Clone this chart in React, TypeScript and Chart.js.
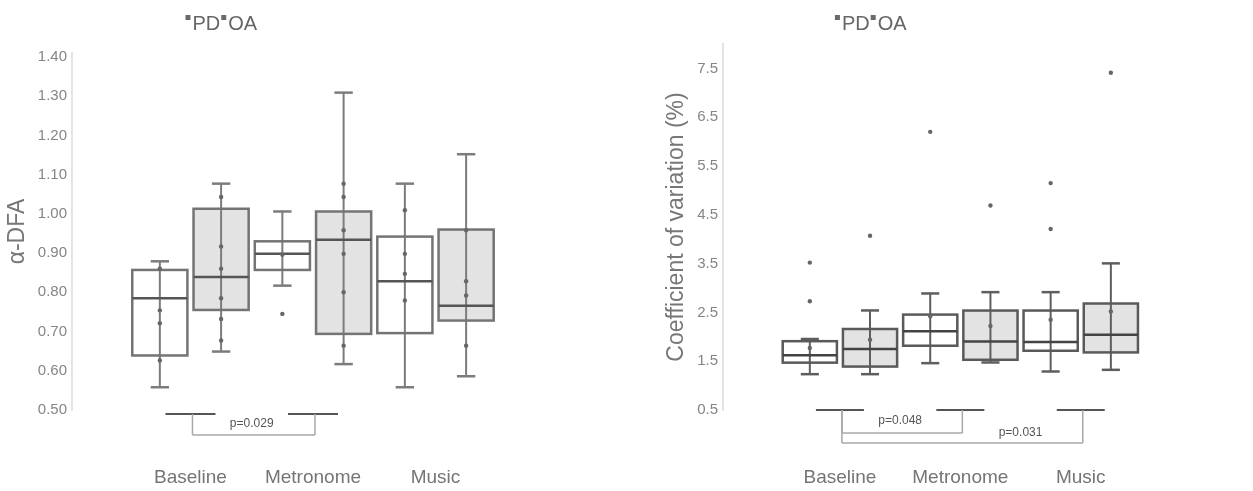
import React, { useEffect, useRef } from 'react';
import { Chart, registerables } from 'chart.js';

Chart.register(...registerables);
Chart.defaults.font.family = "'Liberation Sans', Arial, sans-serif";

// ---------- shared ----------
const categories = ['Baseline', 'Metronome', 'Music'];
const groupLabels = ['PD', 'OA'];

// ---------- α-DFA panel ----------
const dfaTicks = [0.5, 0.6, 0.7, 0.8, 0.9, 1.0, 1.1, 1.2, 1.3, 1.4];
const dfaPdMin = [0.558, 0.817, 0.558];
const dfaPdQ1 = [0.639, 0.857, 0.696];
const dfaPdMed = [0.785, 0.898, 0.828];
const dfaPdQ3 = [0.857, 0.93, 0.942];
const dfaPdMax = [0.879, 1.006, 1.077];
const dfaOaMin = [0.649, 0.617, 0.586];
const dfaOaQ1 = [0.755, 0.694, 0.728];
const dfaOaMed = [0.839, 0.934, 0.766];
const dfaOaQ3 = [1.013, 1.006, 0.96];
const dfaOaMax = [1.077, 1.309, 1.152];
const dfaPdPoints = [
  [0.754, 0.721, 0.86, 0.626],
  [0.896, 0.745],
  [0.898, 0.779, 0.847, 1.009],
];
const dfaOaPoints = [
  [0.917, 0.86, 0.785, 0.732, 0.677, 1.043],
  [0.898, 0.8, 1.077, 1.043, 0.958, 0.664],
  [0.828, 0.792, 0.664, 0.958],
];
const dfaSigFrom = [0];
const dfaSigTo = [1];
const dfaSigLabel = ['p=0.029'];

// ---------- CV panel ----------
const cvTicks = [0.5, 1.5, 2.5, 3.5, 4.5, 5.5, 6.5, 7.5];
const cvPdMin = [1.234, 1.46, 1.289];
const cvPdQ1 = [1.47, 1.817, 1.714];
const cvPdMed = [1.62, 2.112, 1.893];
const cvPdQ3 = [1.91, 2.455, 2.538];
const cvPdMax = [1.955, 2.888, 2.915];
const cvOaMin = [1.234, 1.474, 1.323];
const cvOaQ1 = [1.39, 1.529, 1.68];
const cvOaMed = [1.75, 1.906, 2.044];
const cvOaQ3 = [2.16, 2.538, 2.682];
const cvOaMax = [2.54, 2.915, 3.505];
const cvPdPoints = [
  [3.52, 2.73, 1.77],
  [6.2, 2.42],
  [5.15, 4.21, 2.35],
];
const cvOaPoints = [
  [4.07, 1.94],
  [4.69, 2.22],
  [7.41, 2.52],
];
const cvSigFrom = [0, 0];
const cvSigTo = [1, 2];
const cvSigLabel = ['p=0.048', 'p=0.031'];

// ---------- styling constants ----------
const OFFSETS = [-0.25, 0.25];
const BOX_HALF = 0.225;
const CAP_HALF = 0.075;
const FILLS = ['#ffffff', '#e3e3e3'];
const FONT = "'Liberation Sans', Arial, sans-serif";

type Stats = { min: number[]; q1: number[]; med: number[]; q3: number[]; max: number[] };

type PanelCfg = {
  width: number;
  yMin: number;
  yMax: number;
  yTicks: number[];
  decimals: number;
  yTitle: string;
  yTitleFont: number;
  yTitlePad: number;
  yWidth: number;
  tickFont: number;
  padTop: number;
  padRight: number;
  xMin: number;
  xMax: number;
  boxStroke: string;
  whisker: string;
  median: string;
  stats: Stats[];
  points: number[][][];
  sigFrom: number[];
  sigTo: number[];
  sigLabel: string[];
  sig: {
    segY: number;
    segHalf: number;
    levels: number[];
    labelAt: number[];
    labelY: number[];
  };
};

function line(ctx: CanvasRenderingContext2D, x1: number, y1: number, x2: number, y2: number) {
  ctx.beginPath();
  ctx.moveTo(x1, y1);
  ctx.lineTo(x2, y2);
  ctx.stroke();
}

function makeBoxPlugin(cfg: PanelCfg) {
  return {
    id: 'boxes',
    beforeDatasetsDraw(chart: any) {
      const { ctx } = chart;
      const x = chart.scales.x;
      const y = chart.scales.y;
      ctx.save();
      cfg.stats.forEach((g, gi) => {
        categories.forEach((_, i) => {
          const c = i + OFFSETS[gi];
          const cx = x.getPixelForValue(c);
          const l = x.getPixelForValue(c - BOX_HALF);
          const r = x.getPixelForValue(c + BOX_HALF);
          const cl = x.getPixelForValue(c - CAP_HALF);
          const cr = x.getPixelForValue(c + CAP_HALF);
          const yMin = y.getPixelForValue(g.min[i]);
          const yQ1 = y.getPixelForValue(g.q1[i]);
          const yMed = y.getPixelForValue(g.med[i]);
          const yQ3 = y.getPixelForValue(g.q3[i]);
          const yMax = y.getPixelForValue(g.max[i]);
          ctx.fillStyle = FILLS[gi];
          ctx.fillRect(l, yQ3, r - l, yQ1 - yQ3);
          ctx.strokeStyle = cfg.whisker;
          ctx.lineWidth = 2;
          line(ctx, cx, yMax, cx, yMin);
          ctx.lineWidth = 2.5;
          line(ctx, cl, yMax, cr, yMax);
          line(ctx, cl, yMin, cr, yMin);
          ctx.strokeStyle = cfg.boxStroke;
          ctx.lineWidth = 2.5;
          ctx.strokeRect(l, yQ3, r - l, yQ1 - yQ3);
          ctx.strokeStyle = cfg.median;
          ctx.lineWidth = 2.5;
          line(ctx, l, yMed, r, yMed);
        });
      });
      ctx.restore();
    },
    afterDraw(chart: any) {
      const { ctx, chartArea } = chart;
      const x = chart.scales.x;
      const b = chartArea.bottom;
      ctx.save();
      // legend
      const lx0 = x.getPixelForValue(0) - 5;
      ctx.font = `20px ${FONT}`;
      ctx.textBaseline = 'middle';
      ctx.textAlign = 'left';
      let lx = lx0;
      groupLabels.forEach((lab) => {
        ctx.fillStyle = '#6a6a6a';
        ctx.fillRect(lx, 15, 5, 5);
        lx += 7;
        ctx.fillStyle = '#666666';
        ctx.fillText(lab, lx, 24);
        lx += ctx.measureText(lab).width + 1;
      });
      // significance
      const used = Array.from(new Set([...cfg.sigFrom, ...cfg.sigTo]));
      ctx.strokeStyle = '#555555';
      ctx.lineWidth = 2;
      used.forEach((ci) => {
        const cx = x.getPixelForValue(ci);
        line(ctx, cx - cfg.sig.segHalf, b + cfg.sig.segY, cx + cfg.sig.segHalf, b + cfg.sig.segY);
      });
      ctx.strokeStyle = '#a8a8a8';
      ctx.lineWidth = 1.5;
      cfg.sigFrom.forEach((f, k) => {
        const x1 = x.getPixelForValue(f) + 2;
        const x2 = x.getPixelForValue(cfg.sigTo[k]) + 2;
        const ly = b + cfg.sig.levels[k];
        line(ctx, x1, b + cfg.sig.segY, x1, ly);
        line(ctx, x2, b + cfg.sig.segY, x2, ly);
        line(ctx, x1, ly, x2, ly);
      });
      ctx.font = `12px ${FONT}`;
      ctx.fillStyle = '#555555';
      ctx.textAlign = 'center';
      cfg.sigLabel.forEach((t, k) => {
        ctx.fillText(t, x.getPixelForValue(cfg.sig.labelAt[k]), b + cfg.sig.labelY[k]);
      });
      ctx.restore();
    },
  };
}

function buildConfig(cfg: PanelCfg): any {
  const datasets = cfg.points.map((grp, gi) => ({
    label: groupLabels[gi],
    data: grp.flatMap((vals, i) => vals.map((v) => ({ x: i + OFFSETS[gi], y: v }))),
    pointRadius: 2.2,
    pointBackgroundColor: '#666666',
    pointBorderColor: '#666666',
    pointBorderWidth: 0,
  }));
  return {
    type: 'scatter',
    data: { datasets },
    options: {
      animation: false,
      responsive: false,
      devicePixelRatio: 1,
      layout: { padding: { top: cfg.padTop, right: cfg.padRight, left: 0, bottom: 0 } },
      plugins: { legend: { display: false }, tooltip: { enabled: false }, title: { display: false } },
      scales: {
        x: {
          type: 'linear',
          min: cfg.xMin,
          max: cfg.xMax,
          afterBuildTicks: (s: any) => {
            s.ticks = categories.map((_, i) => ({ value: i }));
          },
          afterFit: (s: any) => {
            s.height = 81;
          },
          ticks: {
            callback: (v: any) => categories[Math.round(Number(v))] ?? '',
            color: '#757575',
            font: { size: 19 },
            padding: 56,
            autoSkip: false,
            maxRotation: 0,
          },
          grid: { display: false, drawTicks: false },
          border: { display: false },
        },
        y: {
          min: cfg.yMin,
          max: cfg.yMax,
          afterBuildTicks: (s: any) => {
            s.ticks = cfg.yTicks.map((v) => ({ value: v }));
          },
          afterFit: (s: any) => {
            s.width = cfg.yWidth;
          },
          ticks: {
            callback: (v: any) => Number(v).toFixed(cfg.decimals),
            color: '#858585',
            font: { size: cfg.tickFont },
            padding: 5,
          },
          grid: { display: false, drawTicks: false },
          border: { display: true, color: '#e4e4e4', width: 2 },
          title: {
            display: true,
            text: cfg.yTitle,
            color: '#777777',
            font: { size: cfg.yTitleFont },
            padding: { top: cfg.yTitlePad, bottom: 0 },
          },
        },
      },
    },
    plugins: [makeBoxPlugin(cfg)],
  };
}

const dfaCfg: PanelCfg = {
  width: 626,
  yMin: 0.5,
  yMax: 1.41,
  yTicks: dfaTicks,
  decimals: 2,
  yTitle: 'α-DFA',
  yTitleFont: 23,
  yTitlePad: 4,
  yWidth: 72,
  tickFont: 15,
  padTop: 53,
  padRight: 117,
  xMin: -0.967,
  xMax: 2.6,
  boxStroke: '#747474',
  whisker: '#7c7c7c',
  median: '#555555',
  stats: [
    { min: dfaPdMin, q1: dfaPdQ1, med: dfaPdMed, q3: dfaPdQ3, max: dfaPdMax },
    { min: dfaOaMin, q1: dfaOaQ1, med: dfaOaMed, q3: dfaOaQ3, max: dfaOaMax },
  ],
  points: [dfaPdPoints, dfaOaPoints],
  sigFrom: dfaSigFrom,
  sigTo: dfaSigTo,
  sigLabel: dfaSigLabel,
  sig: { segY: 4, segHalf: 25, levels: [25], labelAt: [0.5], labelY: [14] },
};

const cvCfg: PanelCfg = {
  width: 627,
  yMin: 0.5,
  yMax: 8.0,
  yTicks: cvTicks,
  decimals: 1,
  yTitle: 'Coefficient of variation (%)',
  yTitleFont: 23,
  yTitlePad: 37,
  yWidth: 97,
  tickFont: 15,
  padTop: 44,
  padRight: 100,
  xMin: -0.971,
  xMax: 2.6,
  boxStroke: '#5a5a5a',
  whisker: '#5e5e5e',
  median: '#444444',
  stats: [
    { min: cvPdMin, q1: cvPdQ1, med: cvPdMed, q3: cvPdQ3, max: cvPdMax },
    { min: cvOaMin, q1: cvOaQ1, med: cvOaMed, q3: cvOaQ3, max: cvOaMax },
  ],
  points: [cvPdPoints, cvOaPoints],
  sigFrom: cvSigFrom,
  sigTo: cvSigTo,
  sigLabel: cvSigLabel,
  sig: { segY: 0, segHalf: 24, levels: [23, 33], labelAt: [0.5, 1.5], labelY: [11, 23] },
};

function BoxChart({ cfg }: { cfg: PanelCfg }) {
  const ref = useRef<HTMLCanvasElement>(null);
  useEffect(() => {
    const chart = new Chart(ref.current as HTMLCanvasElement, buildConfig(cfg));
    return () => chart.destroy();
  }, [cfg]);
  return <canvas ref={ref} width={cfg.width} height={491} style={{ display: 'block' }} />;
}

export default function App() {
  return (
    <div style={{ position: 'absolute', left: 0, top: 0, width: 1253, height: 491, background: '#ffffff' }}>
      <div style={{ position: 'absolute', left: 0, top: 0 }}>
        <BoxChart cfg={dfaCfg} />
      </div>
      <div style={{ position: 'absolute', left: 626, top: 0 }}>
        <BoxChart cfg={cvCfg} />
      </div>
    </div>
  );
}
